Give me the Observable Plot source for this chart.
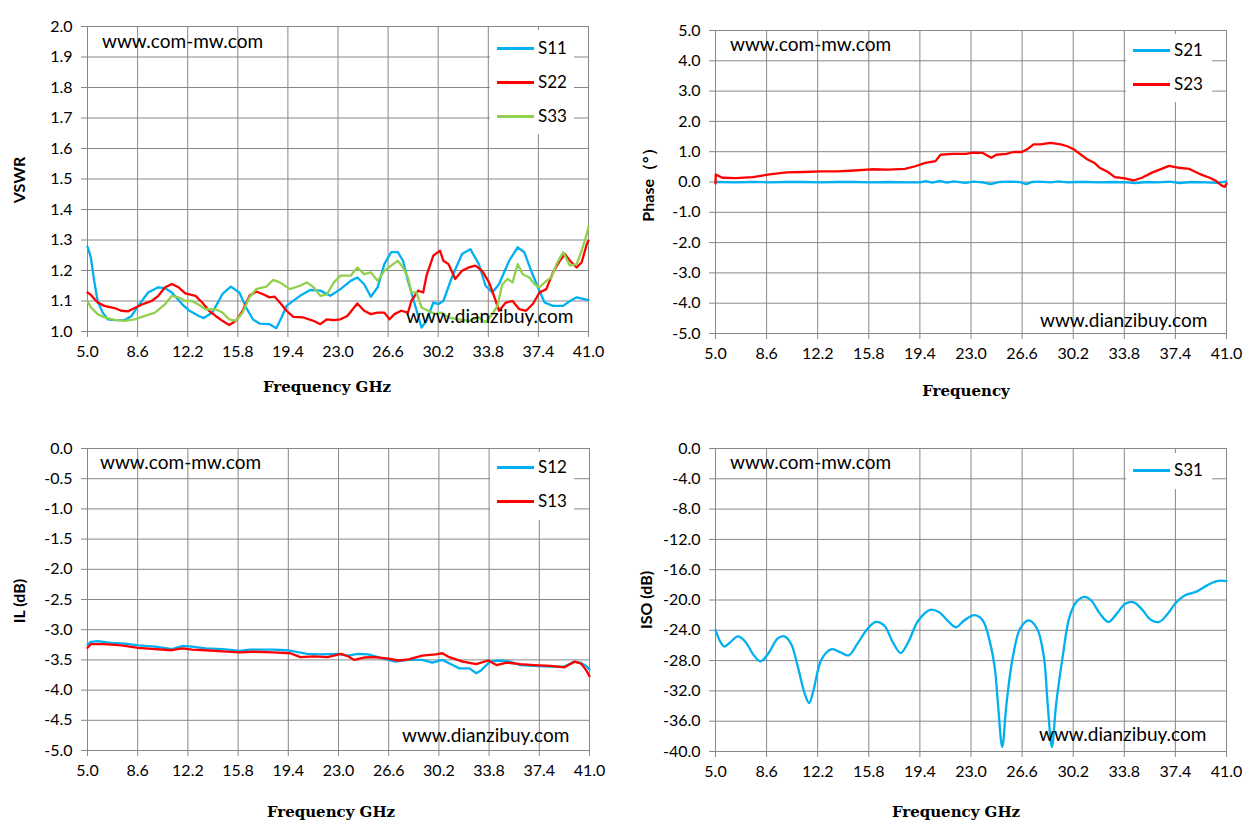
<!DOCTYPE html>
<html><head><meta charset="utf-8">
<script src="https://cdn.jsdelivr.net/npm/d3@7"></script>
<script src="https://cdn.jsdelivr.net/npm/@observablehq/plot@0.6"></script>
<style>
body{margin:0;background:#fff;}
#root{position:relative;width:1257px;height:837px;overflow:hidden;font-family:Lato,"Open Sans",sans-serif;color:#000;}
.panel{position:absolute;}
.wm{position:absolute;font-size:19px;white-space:nowrap;line-height:20px;}
.ytitle{position:absolute;font-weight:bold;font-size:16px;transform:translate(-50%,-50%) rotate(-90deg);white-space:nowrap;}
.xtitle{position:absolute;font-family:"DejaVu Serif",serif;font-weight:bold;font-size:15px;transform:translate(-50%,-50%);white-space:nowrap;}
.legend{position:absolute;background:#fff;}
.lline{position:absolute;height:3px;width:37px;}
.ltext{position:absolute;font-size:17px;line-height:18px;white-space:nowrap;}
</style>
</head><body><div id="root"></div>
<script>
// ---------- tick labels ----------
const freqTicks = [5.0, 8.6, 12.2, 15.8, 19.4, 23.0, 26.6, 30.2, 33.8, 37.4, 41.0];
const vswrTicks = [1.0, 1.1, 1.2, 1.3, 1.4, 1.5, 1.6, 1.7, 1.8, 1.9, 2.0];
const phaseTicks = [-5, -4, -3, -2, -1, 0, 1, 2, 3, 4, 5];
const ilTicks = [-5.0, -4.5, -4.0, -3.5, -3.0, -2.5, -2.0, -1.5, -1.0, -0.5, 0.0];
const isoTicks = [-40, -36, -32, -28, -24, -20, -16, -12, -8, -4, 0];

// ---------- VSWR ----------
const s11Freq = [5.0,5.24,5.48,5.73,6.09,6.45,6.94,7.67,8.15,8.64,9.36,10.09,10.58,11.06,11.79,12.27,13.0,13.36,13.97,14.70,15.30,15.91,16.39,16.88,17.36,18.09,18.57,18.94,19.30,20.27,21.0,21.73,22.45,23.18,23.91,24.39,24.88,25.36,25.85,26.33,26.82,27.30,27.67,28.03,28.51,29.0,29.36,29.85,30.21,30.57,31.18,31.91,32.51,33.12,33.60,34.09,34.57,35.30,35.91,36.39,36.88,37.36,37.85,38.45,39.18,39.67,40.15,41.0];
const s11 = [1.278,1.243,1.166,1.10,1.062,1.04,1.037,1.038,1.05,1.084,1.128,1.145,1.142,1.128,1.09,1.07,1.051,1.044,1.062,1.123,1.147,1.128,1.079,1.04,1.026,1.024,1.011,1.046,1.084,1.117,1.136,1.134,1.117,1.139,1.166,1.177,1.155,1.114,1.145,1.221,1.26,1.26,1.232,1.166,1.09,1.013,1.035,1.095,1.090,1.10,1.177,1.254,1.27,1.221,1.15,1.128,1.155,1.232,1.276,1.26,1.199,1.145,1.095,1.084,1.084,1.10,1.112,1.103];
const s22Freq = [5.0,5.24,5.73,6.21,6.94,7.42,7.91,8.39,8.88,9.61,10.09,10.58,11.06,11.54,12.03,12.76,13.24,13.73,14.21,14.70,15.18,15.67,16.15,16.64,17.12,17.61,18.09,18.45,18.82,19.30,19.79,20.51,21.24,21.73,22.21,22.70,23.18,23.67,24.39,24.88,25.36,25.85,26.33,26.70,27.06,27.54,28.03,28.27,28.76,29.12,29.36,29.85,30.33,30.57,30.94,31.42,31.91,32.39,32.88,33.36,33.85,34.21,34.57,35.06,35.54,36.03,36.51,37.0,37.48,37.97,38.45,38.94,39.30,39.67,40.15,40.51,40.88,41.0];
const s22 = [1.128,1.12,1.095,1.084,1.077,1.068,1.066,1.077,1.088,1.10,1.117,1.145,1.156,1.145,1.125,1.117,1.095,1.068,1.051,1.035,1.021,1.035,1.068,1.117,1.131,1.122,1.112,1.114,1.095,1.068,1.048,1.046,1.035,1.024,1.04,1.037,1.04,1.051,1.092,1.068,1.057,1.062,1.062,1.04,1.057,1.068,1.062,1.10,1.134,1.128,1.183,1.249,1.265,1.232,1.221,1.172,1.199,1.21,1.216,1.199,1.161,1.117,1.068,1.095,1.10,1.073,1.068,1.09,1.128,1.139,1.194,1.232,1.254,1.232,1.21,1.227,1.287,1.298];
const s33Freq = [5.0,5.24,5.73,6.21,6.94,7.67,8.39,9.12,9.85,10.58,11.06,11.54,12.03,12.51,13.0,13.48,14.21,14.70,15.18,15.67,16.15,16.64,17.12,17.85,18.33,18.82,19.54,20.27,20.76,21.24,21.73,22.21,22.70,23.18,23.91,24.39,24.88,25.36,25.85,26.33,26.82,27.30,27.67,28.03,28.27,28.63,29.0,29.48,29.97,30.45,30.94,31.67,32.39,33.12,33.60,34.09,34.45,34.81,35.18,35.54,35.91,36.27,36.75,37.12,37.48,37.97,38.33,38.70,39.18,39.67,40.15,40.51,40.88,41.0];
const s33 = [1.099,1.079,1.057,1.046,1.038,1.035,1.04,1.051,1.062,1.09,1.117,1.112,1.10,1.10,1.088,1.073,1.073,1.062,1.04,1.035,1.062,1.112,1.139,1.147,1.169,1.161,1.139,1.15,1.161,1.145,1.117,1.122,1.161,1.183,1.183,1.21,1.188,1.194,1.166,1.199,1.216,1.232,1.21,1.177,1.128,1.128,1.079,1.068,1.057,1.062,1.046,1.04,1.035,1.046,1.03,1.057,1.084,1.155,1.172,1.161,1.221,1.188,1.177,1.155,1.145,1.166,1.177,1.221,1.26,1.216,1.221,1.265,1.32,1.344];

// ---------- Phase ----------
const s21Freq = [5.0,6.4,7.6,8.8,10.0,11.2,12.4,13.6,14.8,16.0,17.2,18.4,19.4,19.8,20.3,20.8,21.3,21.8,22.6,23.2,23.8,24.4,25.0,25.6,26.4,26.9,27.3,27.8,28.6,29.2,29.8,30.5,31.2,32.0,33.0,34.0,34.6,35.4,36.2,37.0,37.7,38.5,39.5,40.4,41.0];
const s21 = [0.0,-0.01,0.0,-0.01,0.0,0.0,-0.01,0.0,0.0,-0.01,0.0,-0.01,-0.01,0.03,-0.02,0.04,-0.02,0.02,-0.03,0.01,-0.01,-0.07,0.0,0.01,0.0,-0.07,0.0,0.01,-0.01,0.02,-0.01,0.0,0.0,-0.01,0.0,-0.01,-0.04,0.0,-0.01,0.01,-0.04,0.0,-0.01,-0.03,0.02];
const s23Freq = [5.0,5.02,5.48,6.43,7.62,8.81,10.01,11.20,12.39,13.58,14.77,15.97,17.16,18.35,19.07,19.78,20.50,20.85,21.69,22.64,23.12,23.83,24.43,24.79,25.50,25.98,26.57,26.93,27.41,27.89,28.60,29.32,29.79,30.27,30.75,31.22,31.70,32.06,32.65,33.13,33.85,34.44,35.04,35.75,36.47,36.95,37.66,38.38,39.09,39.81,40.28,40.64,40.88,41.0];
const s23 = [-0.05,0.25,0.14,0.13,0.16,0.25,0.32,0.33,0.35,0.35,0.38,0.42,0.41,0.43,0.52,0.63,0.69,0.90,0.93,0.93,0.97,0.96,0.80,0.90,0.93,0.99,0.99,1.07,1.24,1.24,1.29,1.24,1.18,1.07,0.90,0.74,0.63,0.47,0.33,0.16,0.12,0.05,0.14,0.31,0.44,0.53,0.47,0.43,0.27,0.14,0.03,-0.11,-0.16,-0.05];

// ---------- IL ----------
const s12Freq = [5.0,5.24,5.73,6.70,7.67,8.64,9.85,11.06,11.79,12.51,13.48,14.70,15.91,16.64,18.33,19.30,19.79,20.76,21.73,22.94,23.67,24.39,25.12,26.09,27.06,28.03,29.0,29.72,30.45,31.18,31.67,32.39,32.88,33.24,33.85,34.57,35.30,36.03,37.0,38.21,39.18,39.91,40.39,40.76,41.0];
const s12 = [-3.244,-3.20,-3.19,-3.22,-3.23,-3.26,-3.28,-3.32,-3.27,-3.28,-3.31,-3.32,-3.35,-3.33,-3.33,-3.34,-3.36,-3.40,-3.41,-3.40,-3.43,-3.40,-3.41,-3.47,-3.53,-3.50,-3.50,-3.545,-3.50,-3.585,-3.64,-3.64,-3.72,-3.67,-3.53,-3.51,-3.53,-3.585,-3.60,-3.61,-3.61,-3.53,-3.55,-3.60,-3.66];
const s13Freq = [5.0,5.24,6.21,7.42,8.64,9.85,11.06,11.79,12.51,13.48,14.70,15.91,16.88,18.33,19.54,20.27,21.24,22.21,23.18,23.67,24.15,24.88,25.60,26.57,27.30,28.03,29.0,29.97,30.45,30.94,31.91,32.88,33.73,34.33,35.06,36.03,37.0,38.21,39.18,39.91,40.39,40.76,41.0];
const s13 = [-3.30,-3.24,-3.24,-3.26,-3.30,-3.32,-3.34,-3.31,-3.33,-3.34,-3.36,-3.375,-3.365,-3.375,-3.39,-3.455,-3.44,-3.455,-3.40,-3.44,-3.50,-3.46,-3.455,-3.48,-3.51,-3.49,-3.43,-3.41,-3.39,-3.455,-3.53,-3.57,-3.51,-3.585,-3.545,-3.57,-3.585,-3.60,-3.625,-3.53,-3.56,-3.67,-3.77];

// ---------- ISO ----------
const s31Freq = [5.0,5.31,5.62,6.03,6.58,7.10,7.70,8.18,8.78,9.37,9.85,10.33,10.81,11.29,11.60,11.89,12.48,13.20,13.80,14.39,14.99,15.71,16.30,16.90,17.50,18.05,18.57,19.29,20.13,20.73,21.44,21.92,22.52,23.24,23.83,24.31,24.67,24.90,25.2,25.5,25.94,26.46,27.06,27.66,28.14,28.40,28.70,29.0,29.45,29.93,30.41,31.00,31.48,32.08,32.68,33.27,33.87,34.47,35.07,35.66,36.26,36.86,37.46,38.05,38.89,39.61,40.32,41.0];
const s31 = [-23.96,-25.4,-26.15,-25.6,-24.8,-25.5,-27.3,-28.1,-26.9,-25.1,-24.8,-25.8,-28.9,-32.4,-33.6,-32.0,-27.8,-26.5,-26.9,-27.3,-25.8,-23.8,-22.9,-23.4,-25.6,-27.0,-25.6,-22.7,-21.3,-21.6,-22.9,-23.6,-22.7,-22.0,-22.7,-25.4,-28.9,-33.7,-39.4,-33.7,-27.6,-23.8,-22.7,-23.8,-27.6,-33.7,-39.4,-33.7,-27.6,-22.3,-20.3,-19.6,-20.1,-21.8,-22.9,-21.8,-20.5,-20.3,-21.3,-22.6,-22.9,-21.8,-20.3,-19.4,-18.9,-18.1,-17.5,-17.5];

const BLUE = "#00B0F0", RED = "#FF0000", GREEN = "#92D050", GRID = "#888888";
const root = document.getElementById("root");

function rowsOf(freq, vals, name) { return freq.map((f, i) => ({f, v: vals[i], name})); }

function panel(cfg) {
  const chart = Plot.plot({
    width: cfg.width, height: cfg.height,
    marginLeft: cfg.mL, marginTop: cfg.mT, marginRight: cfg.mR, marginBottom: cfg.mB,
    x: {domain: [5, 41]},
    y: {domain: cfg.yDomain},
    style: {fontFamily: "Lato, 'Open Sans', sans-serif", fontSize: "16px", color: "#000", background: "transparent", overflow: "visible"},
    marks: [
      Plot.gridX(freqTicks, {stroke: GRID, strokeOpacity: 1, strokeWidth: 1}),
      Plot.gridY(cfg.yTicks, {stroke: GRID, strokeOpacity: 1, strokeWidth: 1}),
      Plot.axisX(freqTicks, {tickSize: 6, tickPadding: 8, stroke: GRID, fill: "#000", tickFormat: d => d.toFixed(1), label: null}),
      Plot.axisY(cfg.yTicks, {tickSize: 6, tickPadding: 9, stroke: GRID, fill: "#000", tickFormat: d => d.toFixed(1), label: null}),
      ...cfg.series.map(s => Plot.line(rowsOf(s.f, s.v, s.name), {x: "f", y: "v", stroke: s.color, strokeWidth: 2.3, curve: cfg.curve || "linear"}))
    ]
  });
  const holder = document.createElement("div");
  holder.className = "panel";
  holder.style.left = cfg.left + "px";
  holder.style.top = cfg.top + "px";
  holder.appendChild(chart);
  root.appendChild(holder);

  // legend
  const lg = document.createElement("div");
  lg.className = "legend";
  Object.assign(lg.style, {left: cfg.legend.x + "px", top: cfg.legend.y + "px", width: cfg.legend.w + "px", height: cfg.legend.h + "px"});
  root.appendChild(lg);
  cfg.series.forEach((s, i) => {
    const cy = cfg.legend.itemY + i * 34;
    const ln = document.createElement("div");
    ln.className = "lline";
    Object.assign(ln.style, {left: cfg.legend.lineX + "px", top: (cy - 1.5) + "px", background: s.color});
    root.appendChild(ln);
    const tx = document.createElement("div");
    tx.className = "ltext";
    tx.textContent = s.name;
    Object.assign(tx.style, {left: (cfg.legend.lineX + 41) + "px", top: (cy - 9) + "px"});
    root.appendChild(tx);
  });

  // titles
  const yt = document.createElement("div");
  yt.className = "ytitle"; yt.textContent = cfg.yTitle;
  Object.assign(yt.style, {left: cfg.yTitlePos[0] + "px", top: cfg.yTitlePos[1] + "px"});
  root.appendChild(yt);
  const xt = document.createElement("div");
  xt.className = "xtitle"; xt.textContent = cfg.xTitle;
  Object.assign(xt.style, {left: cfg.xTitlePos[0] + "px", top: cfg.xTitlePos[1] + "px"});
  root.appendChild(xt);

  // watermarks
  cfg.marks.forEach(([txt, x, cy]) => {
    const w = document.createElement("div");
    w.className = "wm"; w.textContent = txt;
    Object.assign(w.style, {left: x + "px", top: (cy - 10) + "px"});
    root.appendChild(w);
  });
}

panel({
  left: 0, top: 0, width: 628, height: 410, mL: 87, mT: 26, mR: 40, mB: 79,
  yDomain: [1.0, 2.0], yTicks: vswrTicks,
  series: [
    {name: "S11", f: s11Freq, v: s11, color: BLUE},
    {name: "S22", f: s22Freq, v: s22, color: RED},
    {name: "S33", f: s33Freq, v: s33, color: GREEN}
  ],
  legend: {x: 490, y: 30, w: 84, h: 104, itemY: 48, lineX: 497},
  yTitle: "VSWR", yTitlePos: [18, 180],
  xTitle: "Frequency GHz", xTitlePos: [327, 387],
  marks: [["www.com-mw.com", 102, 41], ["www.dianzibuy.com", 406, 316]]
});

panel({
  left: 628, top: 0, width: 629, height: 410, mL: 87, mT: 30, mR: 31, mB: 77,
  yDomain: [-5, 5], yTicks: phaseTicks,
  series: [
    {name: "S21", f: s21Freq, v: s21, color: BLUE},
    {name: "S23", f: s23Freq, v: s23, color: RED}
  ],
  legend: {x: 1126, y: 34, w: 86, h: 68, itemY: 50, lineX: 1133},
  yTitle: "Phase\uFF08\u00B0\uFF09", yTitlePos: [649, 181],
  xTitle: "Frequency", xTitlePos: [966, 391],
  marks: [["www.com-mw.com", 730, 44], ["www.dianzibuy.com", 1040, 320]]
});

panel({
  left: 0, top: 410, width: 628, height: 427, mL: 87, mT: 38, mR: 39, mB: 87,
  yDomain: [-5, 0], yTicks: ilTicks,
  series: [
    {name: "S12", f: s12Freq, v: s12, color: BLUE},
    {name: "S13", f: s13Freq, v: s13, color: RED}
  ],
  legend: {x: 490, y: 452, w: 84, h: 68, itemY: 467, lineX: 497},
  yTitle: "IL (dB)", yTitlePos: [18, 601],
  xTitle: "Frequency GHz", xTitlePos: [331, 812],
  marks: [["www.com-mw.com", 100, 462], ["www.dianzibuy.com", 402, 735]]
});

panel({
  left: 628, top: 410, width: 629, height: 427, mL: 87, mT: 38, mR: 31, mB: 86,
  yDomain: [-40, 0], yTicks: isoTicks,
  series: [
    {name: "S31", f: s31Freq, v: s31, color: BLUE}
  ],
  legend: {x: 1126, y: 453, w: 86, h: 36, itemY: 470, lineX: 1133},
  yTitle: "ISO (dB)", yTitlePos: [645, 600],
  xTitle: "Frequency GHz", xTitlePos: [956, 812],
  marks: [["www.com-mw.com", 730, 462], ["www.dianzibuy.com", 1039, 734]],
  curve: "catmull-rom"
});
</script>
</body></html>
